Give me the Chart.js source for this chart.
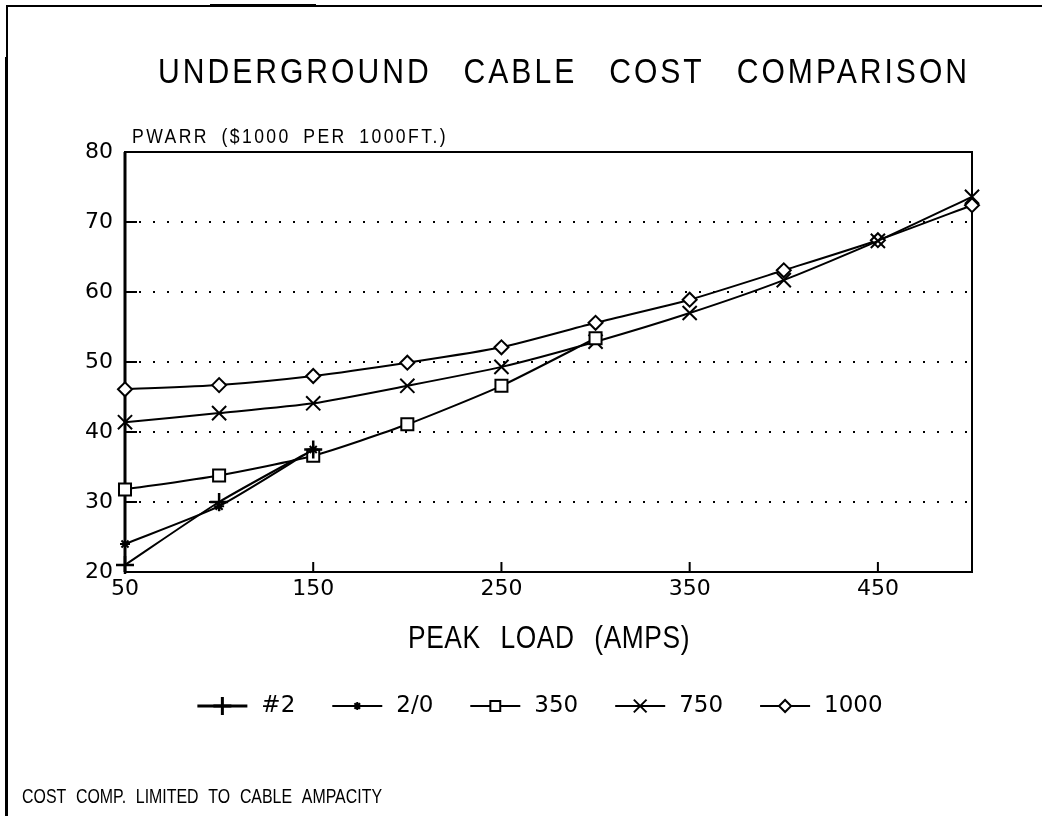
<!DOCTYPE html>
<html>
<head>
<meta charset="utf-8">
<title>Underground Cable Cost Comparison</title>
<script src="https://cdn.jsdelivr.net/npm/chart.js@4/dist/chart.umd.min.js"></script>
<style>
  html, body { margin: 0; padding: 0; background: #fff; }
  canvas { display: block; }
</style>
</head>
<body>
<canvas id="costChart" width="1042" height="816"></canvas>
<script>
// Peak load (amps) at which each cable size was costed
const peakLoads = [50, 100, 150, 200, 250, 300, 350, 400, 450, 500];
const xTickValues = [50, 150, 250, 350, 450];
const yTickValues = [20, 30, 40, 50, 60, 70, 80];

// PWARR in $1000 per 1000 ft; each size stops at its ampacity
const cableNames = ['#2', '2/0', '350', '750', '1000'];
const cost2 = [21.0, 30.0, 37.5];
const cost2_0 = [24.0, 29.4, 37.5];
const cost350 = [31.8, 33.8, 36.6, 41.1, 46.6, 53.4];
const cost750 = [41.4, 42.7, 44.1, 46.6, 49.3, 52.9, 57.0, 61.7, 67.3, 73.6];
const cost1000 = [46.1, 46.7, 48.0, 49.9, 52.1, 55.6, 58.9, 63.1, 67.4, 72.4];

const titleText = 'UNDERGROUND CABLE COST COMPARISON';
const yTitleText = 'PWARR ($1000 PER 1000FT.)';
const xTitleText = 'PEAK LOAD (AMPS)';
const noteText = 'COST COMP. LIMITED TO CABLE AMPACITY';

const seriesValues = [cost2, cost2_0, cost350, cost750, cost1000];

// marker look per cable size (data marker, then the smaller legend one)
const markers = [
  { style: 'cross', r: 9, w: 2.5, legendR: 9, legendW: 3 },
  { style: 'star', r: 5, w: 2, legendR: 4, legendW: 2 },
  { style: 'rect', r: 8.5, w: 2, legendR: 7, legendW: 1.5 },
  { style: 'crossRot', r: 10, w: 2, legendR: 9, legendW: 1.5 },
  { style: 'rectRot', r: 7, w: 2, legendR: 6, legendW: 1.5 },
];

const TEXT_FONT = '"Liberation Sans", Arial, sans-serif';
const NUM_FONT = '"DejaVu Sans", sans-serif';
const INK = '#000';

/**
 * Fill text so it spans the given width. Glyphs are narrowed by
 * `squeeze` (plotter lettering is thin and narrow) and the letter
 * gaps are opened up to take the rest of the width.
 */
function fitText(ctx, text, left, y, width, size, wordGap, squeeze) {
  const sx = squeeze || 1;
  ctx.save();
  ctx.font = size + 'px ' + TEXT_FONT;
  ctx.textAlign = 'left';
  ctx.textBaseline = 'middle';
  ctx.wordSpacing = (wordGap || 0) + 'px';
  ctx.letterSpacing = '0px';
  const target = width / sx;
  const natural = ctx.measureText(text).width;
  ctx.scale(sx, 1);
  if (natural < target) {
    ctx.letterSpacing = ((target - natural) / text.length) + 'px';
    ctx.fillText(text, left / sx, y);
  } else {
    ctx.fillText(text, left / sx, y, target);
  }
  ctx.restore();
}

const datasets = seriesValues.map((values, i) => ({
  label: cableNames[i],
  data: values.map((v, j) => ({ x: peakLoads[j], y: v })),
  borderColor: INK,
  borderWidth: 2,
  tension: 0.2,
  clip: false,
  pointStyle: markers[i].style,
  pointRadius: markers[i].r,
  pointBorderWidth: markers[i].w,
  pointBorderColor: INK,
  pointBackgroundColor: '#fff',
}));

// Page frame, plot box, inner tick marks, titles and the line-sample legend
const drawingPlugin = {
  id: 'cadDrawing',
  beforeDraw(chart) {
    const ctx = chart.ctx;
    ctx.save();
    ctx.fillStyle = '#fff';
    ctx.fillRect(0, 0, chart.width, chart.height);
    ctx.strokeStyle = INK;
    ctx.lineWidth = 2;
    ctx.beginPath();
    ctx.moveTo(chart.width, 6);
    ctx.lineTo(7, 6);
    ctx.lineTo(7, chart.height);
    ctx.stroke();
    ctx.lineWidth = 3;
    ctx.beginPath();
    ctx.moveTo(210, 5.5);
    ctx.lineTo(316, 5.5);
    ctx.moveTo(6.5, 57);
    ctx.lineTo(6.5, chart.height);
    ctx.stroke();
    ctx.restore();
  },
  beforeDatasetsDraw(chart) {
    const { ctx, chartArea: a, scales } = chart;
    ctx.save();
    ctx.strokeStyle = INK;
    ctx.lineWidth = 2;
    ctx.strokeRect(a.left, a.top, a.right - a.left, a.bottom - a.top);
    ctx.lineWidth = 3;
    ctx.beginPath();
    ctx.moveTo(a.left, a.top);
    ctx.lineTo(a.left, a.bottom);
    ctx.stroke();
    ctx.lineWidth = 2;
    ctx.beginPath();
    yTickValues.forEach(v => {
      const y = scales.y.getPixelForValue(v);
      ctx.moveTo(a.left, y);
      ctx.lineTo(a.left + 12, y);
    });
    xTickValues.forEach(v => {
      const x = scales.x.getPixelForValue(v);
      ctx.moveTo(x, a.bottom);
      ctx.lineTo(x, a.bottom - 10);
    });
    ctx.stroke();
    ctx.restore();
  },
  afterDraw(chart) {
    const ctx = chart.ctx;
    const a = chart.chartArea;
    ctx.save();
    ctx.fillStyle = INK;
    fitText(ctx, titleText, 158, 73, 812, 35, 24, 0.86);
    fitText(ctx, yTitleText, a.left + 7, a.top - 15, 316, 20, 6, 0.88);
    fitText(ctx, xTitleText, 408, 639, 282, 31, 14, 0.85);
    fitText(ctx, noteText, 22, 797, 360, 21, 7, 0.85);

    // legend: short line with the marker in its middle, then the name
    const sampleLen = 50, textGap = 14, itemGap = 37, legendY = 706;
    ctx.font = '23px ' + NUM_FONT;
    const widths = cableNames.map(n => ctx.measureText(n).width);
    const total = widths.reduce((s, w) => s + w + sampleLen + textGap, 0) + itemGap * (cableNames.length - 1);
    let x = (chart.width - total) / 2 + 19;
    cableNames.forEach((name, i) => {
      const m = markers[i];
      ctx.strokeStyle = INK;
      ctx.lineWidth = i === 0 ? 3 : 2;
      ctx.beginPath();
      ctx.moveTo(x, legendY);
      ctx.lineTo(x + sampleLen, legendY);
      ctx.stroke();
      ctx.fillStyle = '#fff';
      Chart.helpers.drawPoint(ctx, {
        pointStyle: m.style,
        radius: m.legendR,
        borderWidth: m.legendW,
        rotation: 0,
      }, x + sampleLen / 2, legendY);
      ctx.fillStyle = INK;
      ctx.font = '23px ' + NUM_FONT;
      ctx.textAlign = 'left';
      ctx.textBaseline = 'middle';
      ctx.fillText(name, x + sampleLen + textGap, legendY);
      x += sampleLen + textGap + widths[i] + itemGap;
    });
    ctx.restore();
  },
};

const tickFont = { family: NUM_FONT, size: 22 };

new Chart(document.getElementById('costChart'), {
  type: 'line',
  data: { datasets },
  options: {
    responsive: false,
    animation: false,
    events: [],
    layout: { padding: { top: 152, right: 70, left: 0, bottom: 0 } },
    plugins: {
      legend: { display: false },
      tooltip: { enabled: false },
      title: { display: false },
    },
    scales: {
      x: {
        type: 'linear',
        min: 50,
        max: 500,
        afterBuildTicks: (scale) => { scale.ticks = xTickValues.map(v => ({ value: v })); },
        afterFit: (scale) => { scale.height = 816 - 572; },
        grid: { display: false },
        border: { display: false },
        ticks: { color: INK, font: tickFont, padding: -4, maxRotation: 0 },
      },
      y: {
        min: 20,
        max: 80,
        afterBuildTicks: (scale) => { scale.ticks = yTickValues.map(v => ({ value: v })); },
        afterFit: (scale) => { scale.width = 125; },
        grid: {
          drawTicks: false,
          lineWidth: 2,
          color: (c) => (c.tick && (c.tick.value === 20 || c.tick.value === 80)) ? 'rgba(0,0,0,0)' : INK,
        },
        border: { display: false, dash: [2, 12], dashOffset: -14 },
        ticks: { color: INK, font: tickFont, padding: 12 },
      },
    },
  },
  plugins: [drawingPlugin],
});
</script>
</body>
</html>
